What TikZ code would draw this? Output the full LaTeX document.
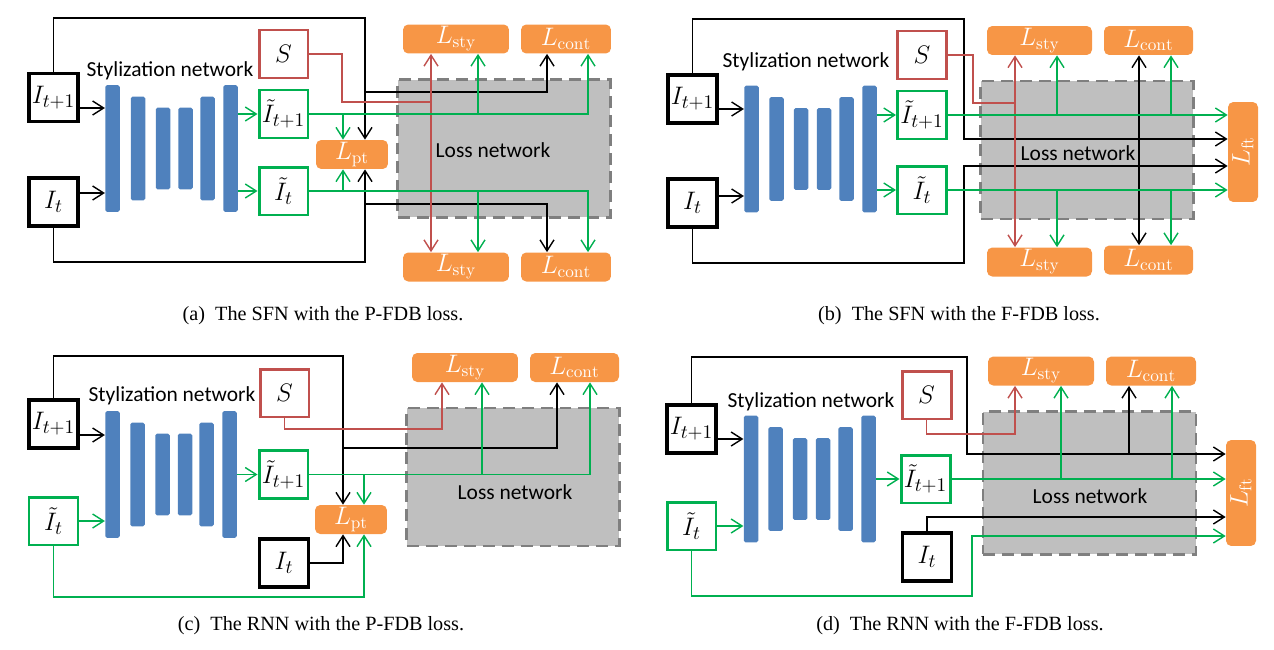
\documentclass[tikz,border=0pt]{standalone}
\usepackage{fontspec}
\usepackage{graphicx}
\usepackage{tikz}
\usetikzlibrary{arrows.meta,positioning,calc}
\newfontfamily\calibri{Carlito}
\newfontfamily\capfont{Liberation Serif}
\definecolor{barblue}{HTML}{4F81BD}
\definecolor{lossorange}{HTML}{F79646}
\definecolor{styred}{HTML}{C0504D}
\definecolor{outgreen}{HTML}{00B050}
\definecolor{netgray}{HTML}{BFBFBF}
\definecolor{netedge}{HTML}{7F7F7F}

\begin{document}
\begin{tikzpicture}[x=0.02cm, y=-0.02cm, >={Straight Barb[length=2.2mm,width=2.8mm]},
  inbox/.style={draw=black, line width=2.2pt, minimum width=0.98cm, minimum height=0.96cm,
                inner sep=0pt, font=\fontsize{15}{17}\selectfont},
  outbox/.style={inbox, draw=outgreen, line width=1.7pt},
  stybox/.style={inbox, draw=styred, line width=1.7pt},
  bar/.style={fill=barblue, rounded corners=1pt, minimum width=0.29cm, inner sep=0pt},
  bartall/.style={bar, minimum height=2.54cm},
  barmid/.style={bar, minimum height=2.08cm},
  barshort/.style={bar, minimum height=1.64cm},
  loss/.style={fill=lossorange, rounded corners=3pt, text=white, minimum height=0.58cm,
               inner sep=0pt, font=\fontsize{14}{16}\selectfont},
  lossnet/.style={fill=netgray, draw=netedge, line width=1.6pt, dash pattern=on 2.4mm off 1.4mm,
                  minimum width=4.26cm, minimum height=2.76cm},
  wire/.style={line width=0.8pt},
  gwire/.style={wire, outgreen},
  rwire/.style={wire, styred},
  lbl/.style={font=\calibri\fontsize{12.2}{14}\selectfont},
  captext/.style={font=\capfont\fontsize{11.5}{14}\selectfont}]
  \useasboundingbox (0,0) rectangle (1274,649);

  \node[lossnet] (a-net) at (504,148.5) {};
  \node[lbl] (a-nettxt) at (493,150) {Loss network};
  \node[inbox] (a-in1) at (53.5,97.5) {$I_{t+1}$};
  \node[inbox] (a-in0) at (53.5,202) {$I_t$};
  \node[bartall] (a-b1) at (112.5,148.5) {};
  \node[barmid] (a-b2) at (138,148.5) {};
  \node[barshort] (a-b3) at (163,148.5) {};
  \node[barshort] (a-b4) at (185.5,148.5) {};
  \node[barmid] (a-b5) at (207.5,148.5) {};
  \node[bartall] (a-b6) at (230.5,148.5) {};
  \node[lbl] (a-title) at (170,71) {Stylization network};
  \node[stybox] (a-s) at (283.5,54) {$S$};
  \node[outbox] (a-o1) at (283.5,114) {$\tilde{I}_{t+1}$};
  \node[outbox] (a-o0) at (283.5,191) {$\tilde{I}_t$};
  \node[loss, minimum width=1.44cm] (a-lpt) at (352,154.5) {$L_{\mathrm{pt}}$};
  \node[loss, minimum width=2.12cm] (a-ls1) at (456,39) {$L_{\mathrm{sty}}$};
  \node[loss, minimum width=1.8cm] (a-lc1) at (566,39) {$L_{\mathrm{cont}}$};
  \node[loss, minimum width=2.12cm] (a-ls0) at (456,267) {$L_{\mathrm{sty}}$};
  \node[loss, minimum width=1.8cm] (a-lc0) at (566,267) {$L_{\mathrm{cont}}$};
  \coordinate (a-y1) at (0,108);
  \coordinate (a-y0) at (0,193);
  \coordinate (a-t) at (365,18);
  \coordinate (a-u) at (365,262);
  \coordinate (a-k1) at (365,92);
  \coordinate (a-k0) at (365,204);
  \coordinate (a-r) at (342,102);
  \coordinate (a-xp) at (343,0);
  \coordinate (a-xr) at (431,0);
  \coordinate (a-xs) at (478,0);
  \coordinate (a-xk) at (547,0);
  \coordinate (a-xg) at (588,0);
  \draw[wire,->] (a-in1.east |- a-y1) -- (a-b1.west |- a-y1);
  \draw[wire,->] (a-in0.east |- a-y0) -- (a-b1.west |- a-y0);
  \draw[gwire,->] (a-b6.east |- a-o1) -- (a-o1.west);
  \draw[gwire,->] (a-b6.east |- a-o0) -- (a-o0.west);
  \draw[wire,->] (a-in1.north) |- (a-t) -- (a-t |- a-lpt.north);
  \draw[wire,->] (a-in0.south) |- (a-u) -- (a-u |- a-lpt.south);
  \draw[wire,->] (a-k1) -| (a-xk |- a-lc1.south);
  \draw[wire,->] (a-k0) -| (a-xk |- a-lc0.north);
  \draw[rwire] (a-s.east) -| (a-r) -- (a-xr |- a-r);
  \draw[rwire,<->] (a-xr |- a-ls1.south) -- (a-xr |- a-ls0.north);
  \draw[gwire,->] (a-o1.east) -| (a-xg |- a-lc1.south);
  \draw[gwire,->] (a-xs |- a-o1) -- (a-xs |- a-ls1.south);
  \draw[gwire,->] (a-xp |- a-o1) -- (a-xp |- a-lpt.north);
  \draw[gwire,->] (a-o0.east) -| (a-xg |- a-lc0.north);
  \draw[gwire,->] (a-xs |- a-o0) -- (a-xs |- a-ls0.north);
  \draw[gwire,->] (a-xp |- a-o0) -- (a-xp |- a-lpt.south);
  \node[captext] (a-cap) at (323,316) {(a)\ \ The SFN with the P-FDB loss.};

  \node[lossnet] (b-net) at (1087,150) {};
  \node[lbl] (b-nettxt) at (1078,153) {Loss network};
  \node[inbox] (b-in1) at (692.5,99) {$I_{t+1}$};
  \node[inbox] (b-in0) at (692.5,203) {$I_t$};
  \node[bartall] (b-b1) at (751.5,149) {};
  \node[barmid] (b-b2) at (776.5,149) {};
  \node[barshort] (b-b3) at (801,149) {};
  \node[barshort] (b-b4) at (824,149) {};
  \node[barmid] (b-b5) at (846.5,149) {};
  \node[bartall] (b-b6) at (869.5,149) {};
  \node[lbl] (b-title) at (806,62) {Stylization network};
  \node[stybox] (b-s) at (922,55) {$S$};
  \node[outbox] (b-o1) at (922,115) {$\tilde{I}_{t+1}$};
  \node[outbox] (b-o0) at (922,190) {$\tilde{I}_t$};
  \node[loss, minimum width=2.1cm] (b-ls1) at (1039.5,40.5) {$L_{\mathrm{sty}}$};
  \node[loss, minimum width=1.78cm] (b-lc1) at (1148.5,40.5) {$L_{\mathrm{cont}}$};
  \node[loss, minimum width=2.1cm] (b-ls0) at (1039.5,262) {$L_{\mathrm{sty}}$};
  \node[loss, minimum width=1.78cm] (b-lc0) at (1148.5,260) {$L_{\mathrm{cont}}$};
  \node[loss, minimum width=0.6cm, minimum height=2.0cm] (b-lft) at (1243,152)
    {\rotatebox{90}{$L_{\mathrm{ft}}$}};
  \coordinate (b-y1) at (0,109);
  \coordinate (b-y0) at (0,196);
  \coordinate (b-t) at (964,19);
  \coordinate (b-u) at (964,263);
  \coordinate (b-k1) at (964,139);
  \coordinate (b-k0) at (964,166);
  \coordinate (b-r) at (973,103);
  \coordinate (b-xr) at (1015,0);
  \coordinate (b-xs) at (1057,0);
  \coordinate (b-xk) at (1139,0);
  \coordinate (b-xg) at (1171,0);
  \draw[wire,->] (b-in1.east |- b-y1) -- (b-b1.west |- b-y1);
  \draw[wire,->] (b-in0.east |- b-y0) -- (b-b1.west |- b-y0);
  \draw[gwire,->] (b-b6.east |- b-o1) -- (b-o1.west);
  \draw[gwire,->] (b-b6.east |- b-o0) -- (b-o0.west);
  \draw[wire,->] (b-in1.north) |- (b-t) -- (b-k1) -- (b-lft.west |- b-k1);
  \draw[wire,->] (b-in0.south) |- (b-u) -- (b-k0) -- (b-lft.west |- b-k0);
  \draw[rwire] (b-s.east) -| (b-r) -- (b-xr |- b-r);
  \draw[rwire,<->] (b-xr |- b-ls1.south) -- (b-xr |- b-ls0.north);
  \draw[wire,<->] (b-xk |- b-lc1.south) -- (b-xk |- b-lc0.north);
  \draw[gwire,->] (b-o1.east) -- (b-lft.west |- b-o1);
  \draw[gwire,->] (b-xs |- b-o1) -- (b-xs |- b-ls1.south);
  \draw[gwire,->] (b-xg |- b-o1) -- (b-xg |- b-lc1.south);
  \draw[gwire,->] (b-o0.east) -- (b-lft.west |- b-o0);
  \draw[gwire,->] (b-xs |- b-o0) -- (b-xs |- b-ls0.north);
  \draw[gwire,->] (b-xg |- b-o0) -- (b-xg |- b-lc0.north);
  \node[captext] (b-cap) at (959,316) {(b)\ \ The SFN with the F-FDB loss.};

  \node[lossnet] (c-net) at (513,477) {};
  \node[lbl] (c-nettxt) at (515,492) {Loss network};
  \node[inbox] (c-in1) at (53.5,424) {$I_{t+1}$};
  \node[outbox] (c-ot) at (53.5,521) {$\tilde{I}_t$};
  \node[bartall] (c-b1) at (112.5,474.5) {};
  \node[barmid] (c-b2) at (137.5,474.5) {};
  \node[barshort] (c-b3) at (162.5,474.5) {};
  \node[barshort] (c-b4) at (185,474.5) {};
  \node[barmid] (c-b5) at (206.5,474.5) {};
  \node[bartall] (c-b6) at (229.5,474.5) {};
  \node[lbl] (c-title) at (172,396) {Stylization network};
  \node[stybox] (c-s) at (284.5,393) {$S$};
  \node[outbox] (c-o1) at (283.5,474.5) {$\tilde{I}_{t+1}$};
  \node[inbox] (c-in0) at (284,563) {$I_t$};
  \node[loss, minimum width=1.44cm] (c-lpt) at (351,519.5) {$L_{\mathrm{pt}}$};
  \node[loss, minimum width=2.12cm] (c-ls) at (465,367.5) {$L_{\mathrm{sty}}$};
  \node[loss, minimum width=1.78cm] (c-lc) at (574.5,367.5) {$L_{\mathrm{cont}}$};
  \coordinate (c-y1) at (0,435);
  \coordinate (c-t) at (343,356);
  \coordinate (c-k) at (343,448);
  \coordinate (c-r) at (0,429);
  \coordinate (c-u) at (364,597);
  \coordinate (c-xf) at (343,0);
  \coordinate (c-xp) at (364,0);
  \coordinate (c-xr) at (442,0);
  \coordinate (c-xs) at (482,0);
  \coordinate (c-xk) at (557,0);
  \coordinate (c-xg) at (590,0);
  \draw[wire,->] (c-in1.east |- c-y1) -- (c-b1.west |- c-y1);
  \draw[gwire,->] (c-ot.east) -- (c-b1.west |- c-ot);
  \draw[gwire,->] (c-b6.east |- c-o1) -- (c-o1.west);
  \draw[wire,->] (c-in1.north) |- (c-t) -- (c-t |- c-lpt.north);
  \draw[wire,->] (c-k) -| (c-xk |- c-lc.south);
  \draw[rwire,->] (c-s.south) |- (c-xr |- c-r) -- (c-xr |- c-ls.south);
  \draw[gwire,->] (c-o1.east) -| (c-xg |- c-lc.south);
  \draw[gwire,->] (c-xs |- c-o1) -- (c-xs |- c-ls.south);
  \draw[gwire,->] (c-xp |- c-o1) -- (c-xp |- c-lpt.north);
  \draw[wire,->] (c-in0.east) -| (c-xf |- c-lpt.south);
  \draw[gwire,->] (c-ot.south) |- (c-u) -- (c-u |- c-lpt.south);
  \node[captext] (c-cap) at (321,626) {(c)\ \ The RNN with the P-FDB loss.};

  \node[lossnet, minimum height=2.86cm] (d-net) at (1089.5,483) {};
  \node[lbl] (d-nettxt) at (1090,496) {Loss network};
  \node[inbox] (d-in1) at (691.5,429) {$I_{t+1}$};
  \node[outbox] (d-ot) at (691.5,526) {$\tilde{I}_t$};
  \node[bartall] (d-b1) at (751,479) {};
  \node[barmid] (d-b2) at (775.5,479) {};
  \node[barshort] (d-b3) at (800,479) {};
  \node[barshort] (d-b4) at (823,479) {};
  \node[barmid] (d-b5) at (845.5,479) {};
  \node[bartall] (d-b6) at (868.5,479) {};
  \node[lbl] (d-title) at (811,402) {Stylization network};
  \node[stybox] (d-s) at (926.5,395) {$S$};
  \node[outbox] (d-o1) at (925.5,479) {$\tilde{I}_{t+1}$};
  \node[inbox] (d-in0) at (927,557) {$I_t$};
  \node[loss, minimum width=2.12cm] (d-ls) at (1041,371) {$L_{\mathrm{sty}}$};
  \node[loss, minimum width=1.8cm] (d-lc) at (1151,371) {$L_{\mathrm{cont}}$};
  \node[loss, minimum width=0.6cm, minimum height=2.12cm] (d-lft) at (1241,493)
    {\rotatebox{90}{$L_{\mathrm{ft}}$}};
  \coordinate (d-y1) at (0,439);
  \coordinate (d-t) at (967,357);
  \coordinate (d-k) at (967,454);
  \coordinate (d-r) at (0,434);
  \coordinate (d-q) at (0,517);
  \coordinate (d-u) at (972,596);
  \coordinate (d-v) at (972,536);
  \coordinate (d-xr) at (1015,0);
  \coordinate (d-xs) at (1061,0);
  \coordinate (d-xk) at (1129,0);
  \coordinate (d-xg) at (1172,0);
  \draw[wire,->] (d-in1.east |- d-y1) -- (d-b1.west |- d-y1);
  \draw[gwire,->] (d-ot.east) -- (d-b1.west |- d-ot);
  \draw[gwire,->] (d-b6.east |- d-o1) -- (d-o1.west);
  \draw[wire,->] (d-in1.north) |- (d-t) -- (d-k) -- (d-lft.west |- d-k);
  \draw[wire,->] (d-xk |- d-k) -- (d-xk |- d-lc.south);
  \draw[rwire,->] (d-s.south) |- (d-xr |- d-r) -- (d-xr |- d-ls.south);
  \draw[gwire,->] (d-o1.east) -- (d-lft.west |- d-o1);
  \draw[gwire,->] (d-xs |- d-o1) -- (d-xs |- d-ls.south);
  \draw[gwire,->] (d-xg |- d-o1) -- (d-xg |- d-lc.south);
  \draw[wire,->] (d-in0.north) |- (d-lft.west |- d-q);
  \draw[gwire,->] (d-ot.south) |- (d-u) -- (d-v) -- (d-lft.west |- d-v);
  \node[captext] (d-cap) at (960,626) {(d)\ \ The RNN with the F-FDB loss.};
\end{tikzpicture}
\end{document}
